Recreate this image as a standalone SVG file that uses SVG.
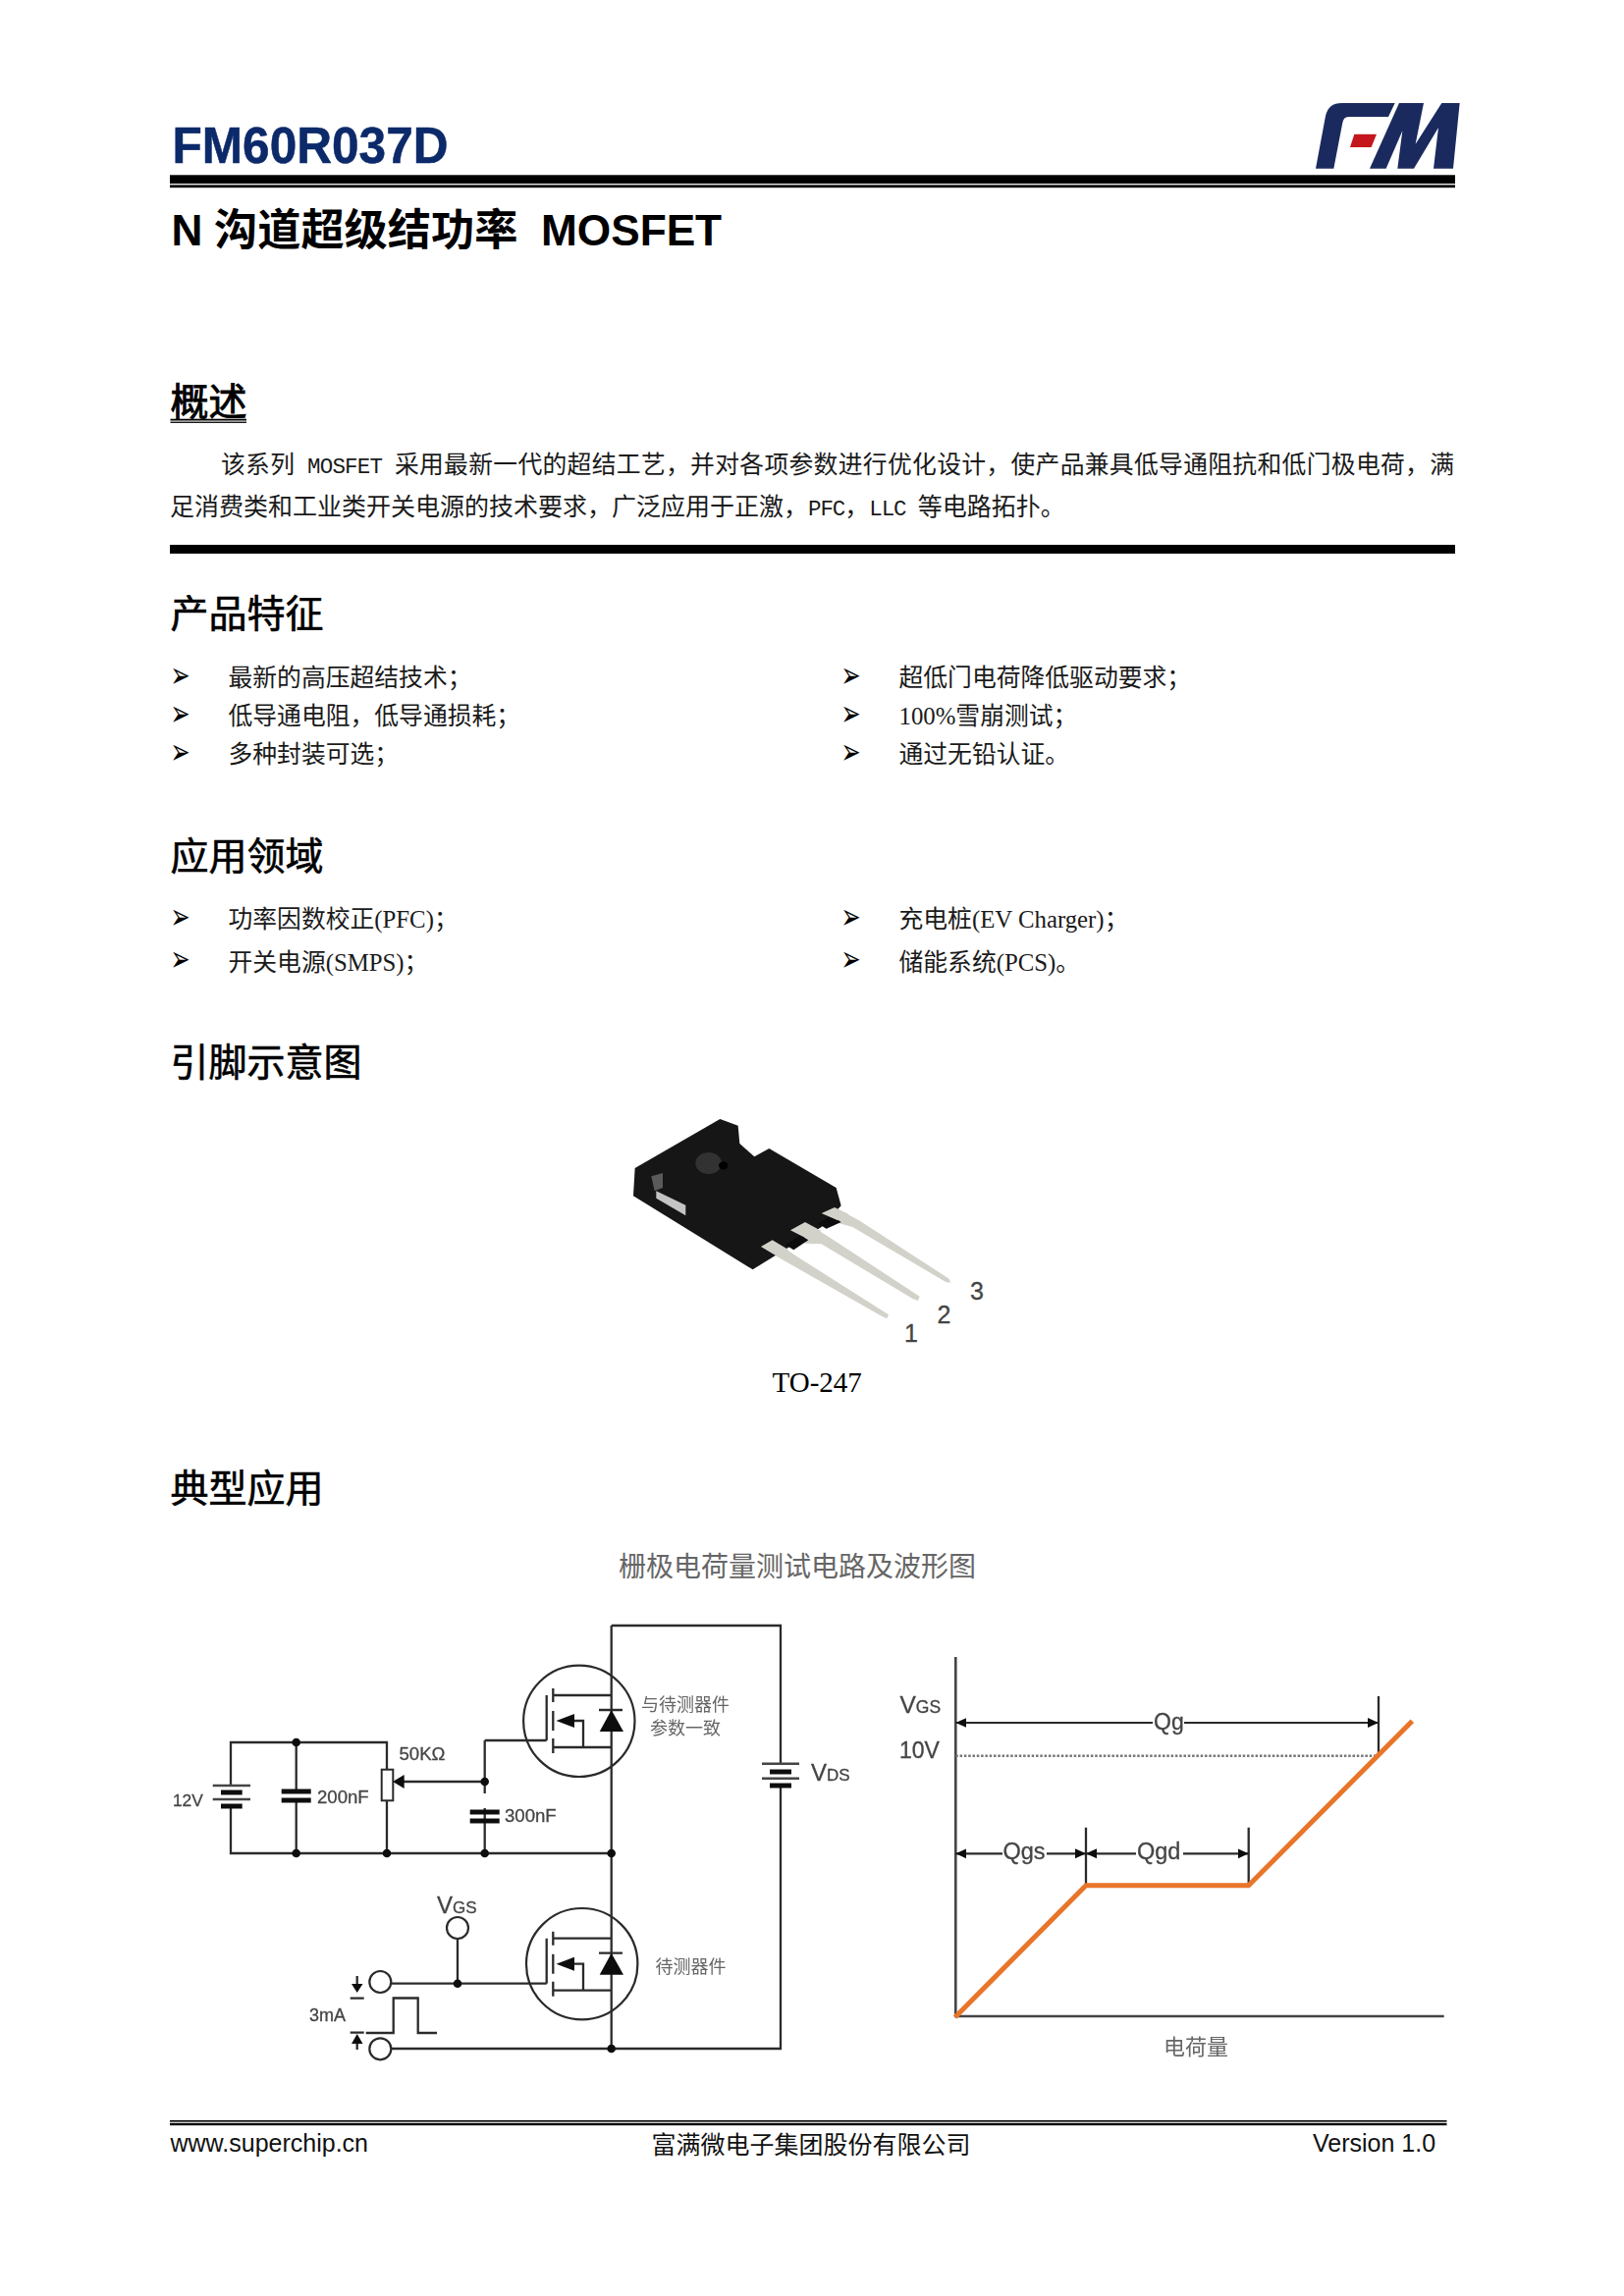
<svg xmlns="http://www.w3.org/2000/svg" xmlns:xlink="http://www.w3.org/1999/xlink" width="1654" height="2339" viewBox="0 0 1654 2339">
<style>
text{fill:#000}
.cjkS{font-family:"Liberation Serif","Noto Sans CJK SC",serif;font-size:24.8px;fill:#1a1a1a}
.h{font-family:"Noto Sans CJK SC",sans-serif;font-size:39px;fill:#000;stroke:#000;stroke-width:.6px}
.sub{font-family:"Liberation Sans","Noto Sans CJK SC",sans-serif;font-size:44.2px;font-weight:700}
.mono{font-family:"Liberation Mono",monospace;font-size:22.5px;letter-spacing:-1.1px}
.b{font-family:"DejaVu Sans",sans-serif;font-size:24px;fill:#000}
.foot{font-family:"Liberation Sans","Noto Sans CJK SC",sans-serif;font-size:25px;fill:#111}
.lab{font-family:"Liberation Sans",sans-serif;fill:#444;stroke:#444;stroke-width:.3px}
.cn{font-family:"Noto Sans CJK SC",sans-serif;fill:#666}
.w{fill:none;stroke:#2c2c2c;stroke-width:2.3}
.wt{fill:none;stroke:#444;stroke-width:2.6}
.thick{fill:none;stroke:#111;stroke-width:5}
.dot{fill:#111}
.tri{fill:#111}
.or{fill:none;stroke:#e8752a;stroke-width:5;stroke-linejoin:miter}
.dim{fill:none;stroke:#2c2c2c;stroke-width:2.2}
</style>
<defs>
<filter id="soft" x="-5%" y="-5%" width="110%" height="110%"><feGaussianBlur stdDeviation="0.55"/></filter>
<filter id="soft2" x="-5%" y="-5%" width="110%" height="110%"><feGaussianBlur stdDeviation="1.1"/></filter>
<marker id="ah" markerUnits="userSpaceOnUse" markerWidth="11" markerHeight="11" refX="11" refY="5.5" orient="auto-start-reverse"><path d="M0,0.5 L11,5.5 L0,10.5 Z" fill="#111"/></marker>
<g id="mos">
<path class="w" d="M556.7,-26V20M563.3,-33V-19M563.3,-10V10M563.3,18V33M563.3,-26H622.7M563.3,27H622.7M585,0H594V27M610,-11H634"/>
<path class="tri" d="M566.5,0L585,-7V7Z"/>
<path class="tri" d="M622.7,-11L610.7,11H635Z"/>
</g>
</defs>
<rect width="1654" height="2339" fill="#fff"/>

<g id="header">
<text x="175.5" y="165.5" font-family="Liberation Sans,sans-serif" font-size="51" font-weight="700" textLength="281" lengthAdjust="spacingAndGlyphs" style="fill:#0c2a6a;stroke:#0c2a6a;stroke-width:.5px">FM60R037D</text>
<g id="logo" transform="translate(1340 95) scale(.3333)">
<path fill="#1b2a5e" d="M0,230L30,70Q38,30 80,30L242,30L222,72L100,72Q85,72 82,90L55,230Z"/>
<path fill="#c4161c" d="M118,125L186,125L170,165L105,165Z"/>
<path fill="#1b2a5e" d="M165,230L255,30L330,30L305,155L385,30L440,30L420,230L360,230L375,105L300,230L250,230L265,115L215,230Z"/>
</g>
<rect x="173" y="178.3" width="1309" height="8.8" fill="#000"/>
<rect x="173" y="188.4" width="1309" height="2.8" fill="#000"/>
<text class="sub" x="174.5" y="250">N</text>
<text class="sub" x="218" y="250">沟道超级结功率</text>
<text class="sub" x="551" y="250">MOSFET</text>
</g>

<g id="overview">
<text class="h" x="173.5" y="423" style="stroke-width:.9px">概述</text>
<rect x="173.5" y="426.7" width="77.5" height="1.8" fill="#000"/>
<rect x="173.5" y="429.6" width="77.5" height="1.3" fill="#000"/>
<text class="cjkS" x="225" y="482" textLength="1256">该系列<tspan class="mono"> MOSFET </tspan>采用最新一代的超结工艺，并对各项参数进行优化设计，使产品兼具低导通阻抗和低门极电荷，满</text>
<text class="cjkS" x="173" y="525" style="font-size:25px">足消费类和工业类开关电源的技术要求，广泛应用于正激，<tspan class="mono">PFC</tspan>，<tspan class="mono">LLC </tspan>等电路拓扑。</text>
<rect x="173" y="555" width="1309" height="9" fill="#000"/>
</g>

<g id="features">
<text class="h" x="173.5" y="638.5">产品特征</text>
<text class="b" transform="translate(173.5 700) scale(1 1.5)">➢</text><text class="cjkS" x="232.5" y="698.5">最新的高压超结技术；</text>
<text class="b" transform="translate(173.5 739) scale(1 1.5)">➢</text><text class="cjkS" x="232.5" y="737.5">低导通电阻，低导通损耗；</text>
<text class="b" transform="translate(173.5 778) scale(1 1.5)">➢</text><text class="cjkS" x="232.5" y="776.5">多种封装可选；</text>
<text class="b" transform="translate(856.5 700) scale(1 1.5)">➢</text><text class="cjkS" x="915.5" y="698.5">超低门电荷降低驱动要求；</text>
<text class="b" transform="translate(856.5 739) scale(1 1.5)">➢</text><text class="cjkS" x="915.5" y="737.5">100%雪崩测试；</text>
<text class="b" transform="translate(856.5 778) scale(1 1.5)">➢</text><text class="cjkS" x="915.5" y="776.5">通过无铅认证。</text>
</g>

<g id="applications">
<text class="h" x="173.5" y="885.5">应用领域</text>
<text class="b" transform="translate(173.5 946) scale(1 1.5)">➢</text><text class="cjkS" x="232.5" y="945">功率因数校正(PFC)；</text>
<text class="b" transform="translate(173.5 989) scale(1 1.5)">➢</text><text class="cjkS" x="232.5" y="989">开关电源(SMPS)；</text>
<text class="b" transform="translate(856.5 946) scale(1 1.5)">➢</text><text class="cjkS" x="915.5" y="945">充电桩(EV Charger)；</text>
<text class="b" transform="translate(856.5 989) scale(1 1.5)">➢</text><text class="cjkS" x="915.5" y="989">储能系统(PCS)。</text>
</g>

<g id="pinout">
<text class="h" x="173.5" y="1096">引脚示意图</text>
<g id="package" transform="translate(620 1130) scale(.3333)" filter="url(#soft2)">
<path fill="#d2d2ca" d="M650,318L690,300L765,340L1040,518L1045,530L1030,528L745,360L690,345Z"/>
<path fill="#d2d2ca" d="M555,370L600,345L672,390L950,572L945,585L930,580L650,412L600,410Z"/>
<path fill="#d2d2ca" d="M465,420L500,400L575,450L855,628L850,640L835,633L545,468L505,445Z"/>
<path fill="#151515" d="M80,180L340,30L395,50L400,105L445,145L490,120L695,240L710,295L650,360L440,490L75,265Z"/>
<path fill="#0a0a0a" d="M540,415L585,385L610,400L565,430Z"/>
<path fill="#0a0a0a" d="M640,350L680,325L710,345L665,365Z"/>
<path fill="#d2d2ca" d="M650,318L690,300L735,322L700,340Z"/>
<path fill="#d2d2ca" d="M555,370L600,345L650,372L605,395Z"/>
<path fill="#d2d2ca" d="M465,420L500,400L550,430L515,450Z"/>
<path fill="#5a5a5a" d="M130,205L165,195L165,240L140,250Z"/>
<path fill="#c4c4c4" d="M145,250L235,293L235,325L145,272Z"/>
<ellipse cx="305" cy="165" rx="40" ry="33" fill="#333"/>
<ellipse cx="350" cy="172" rx="14" ry="12" fill="#000"/>
</g>
<text class="lab" x="921" y="1367" font-size="25">1</text>
<text class="lab" x="954.5" y="1348" font-size="25">2</text>
<text class="lab" x="988" y="1324" font-size="25">3</text>
<text x="786.5" y="1418" font-family="Liberation Serif,serif" font-size="29">TO-247</text>
</g>

<g id="typical">
<text class="h" x="173.5" y="1530">典型应用</text>
<text class="cn" x="630" y="1606" font-size="28">栅极电荷量测试电路及波形图</text>
</g>

<g id="circuit" filter="url(#soft)">
<g id="connectors">
<path class="w" d="M235,1819V1775H394V1802.7M235,1840V1888H622.7M301.7,1775V1825M301.7,1834V1888M394,1834.3V1888"/>
<path class="w" d="M411,1815H493.7M493.7,1773V1827M493.7,1842V1888M493.7,1773H556.7"/>
<path class="w" d="M622.7,1656V2087M622.7,1656H795V1796.7M795,1819V2087H398"/>
<path class="w" d="M398,2020.7H556.7M466,1975V2020.7"/>
</g>
<g id="battery-12v"><path class="wt" d="M216.7,1819H255M216.7,1833H255"/><path class="thick" d="M225,1826H246.7M225,1840H246.7"/></g>
<g id="cap-200nf"><path class="thick" d="M286.7,1825H316.7M286.7,1834H316.7"/></g>
<g id="pot-50k"><rect x="388.7" y="1802.7" width="11.6" height="31.6" fill="#fff" stroke="#2c2c2c" stroke-width="2"/><path class="tri" d="M400,1815L411.7,1808V1822Z"/></g>
<g id="cap-300nf"><path class="thick" d="M478.7,1846H508.7M478.7,1855H508.7"/></g>
<g id="battery-vds"><path class="wt" d="M776,1796.7H814M776,1811.7H814"/><path class="thick" d="M784,1805H806M784,1819H806"/></g>
<g id="q1"><circle cx="589.8" cy="1753.3" r="56.7" fill="none" stroke="#2c2c2c" stroke-width="2.2"/><use xlink:href="#mos" href="#mos" transform="translate(0 1753)"/></g>
<g id="q2"><circle cx="592.7" cy="2000.7" r="56.7" fill="none" stroke="#2c2c2c" stroke-width="2.2"/><use xlink:href="#mos" href="#mos" transform="translate(0 2000.7)"/></g>
<g id="junctions" class="dot">
<circle cx="301.7" cy="1775" r="4.3"/><circle cx="301.7" cy="1888" r="4.3"/><circle cx="394" cy="1888" r="4.3"/>
<circle cx="493.7" cy="1815" r="4.3"/><circle cx="493.7" cy="1888" r="4.3"/><circle cx="622.7" cy="1888" r="4.3"/>
<circle cx="466" cy="2020.7" r="4.3"/><circle cx="622.7" cy="2087" r="4.3"/>
</g>
<g id="terminals" fill="#fff" stroke="#2c2c2c" stroke-width="2.2">
<circle cx="466" cy="1964" r="11"/><circle cx="387.3" cy="2019" r="11"/><circle cx="387.3" cy="2087.3" r="11"/>
</g>
<g id="pulse">
<path class="w" d="M372.7,2071H400.7V2035.5H425.7V2071H445"/>
<path class="w" d="M356.7,2035.7H370.7M356.7,2070.7H370.7M363.7,2013V2024M363.7,2080V2088"/>
<path class="tri" d="M363.7,2030L358,2021H369.5Z"/><path class="tri" d="M363.7,2072L358,2082H369.5Z"/>
</g>
<text class="lab" x="176" y="1840" font-size="17.3">12V</text>
<text class="lab" x="323" y="1836.7" font-size="18.6">200nF</text>
<text class="lab" x="406.5" y="1793" font-size="18.6">50KΩ</text>
<text class="lab" x="514" y="1856" font-size="18.6">300nF</text>
<text class="lab" x="315" y="2059" font-size="18">3mA</text>
<text class="lab" x="445" y="1949" font-size="24">V<tspan font-size="17">GS</tspan></text>
<text class="lab" x="826" y="1814" font-size="24">V<tspan font-size="17">DS</tspan></text>
<text class="cn" x="653" y="1743" font-size="18">与待测器件</text>
<text class="cn" x="662" y="1766.5" font-size="18">参数一致</text>
<text class="cn" x="667.5" y="2009.5" font-size="18">待测器件</text>
</g>

<g id="waveform" filter="url(#soft)">
<g id="chart-lines">
<path class="wt" d="M973.3,1688V2054H1470.7"/>
<path d="M973.3,1788.7H1404" fill="none" stroke="#777" stroke-width="2.4" stroke-dasharray="2.5 1.8"/>
<path class="w" d="M1106,1861.7V1920.7M1271.7,1861.7V1920.7M1404,1728V1789"/>
<path class="dim" d="M973.3,1755H1174" marker-start="url(#ah)"/>
<path class="dim" d="M1206,1755H1404" marker-end="url(#ah)"/>
<path class="dim" d="M973.3,1888.3H1021" marker-start="url(#ah)"/>
<path class="dim" d="M1066,1888.3H1106" marker-end="url(#ah)"/>
<path class="dim" d="M1106,1888.3H1157" marker-start="url(#ah)"/>
<path class="dim" d="M1205,1888.3H1271.7" marker-end="url(#ah)"/>
<path class="or" d="M972.7,2055L1106,1920.7H1271.7L1438.3,1753.3"/>
</g>
<text class="lab" x="916.5" y="1745" font-size="24.5">V<tspan font-size="17.5">GS</tspan></text>
<text class="lab" x="916" y="1791" font-size="23">10V</text>
<text class="lab" x="1175" y="1761.7" font-size="23">Qg</text>
<text class="lab" x="1021.5" y="1894.3" font-size="23.5">Qgs</text>
<text class="lab" x="1158" y="1894.3" font-size="23.5">Qgd</text>
<text class="cn" x="1185" y="2093" font-size="22">电荷量</text>
</g>

<g id="footer">
<rect x="173" y="2160" width="1300.5" height="1.6" fill="#000"/>
<rect x="173" y="2162.8" width="1300.5" height="2.4" fill="#000"/>
<text class="foot" x="173.5" y="2192">www.superchip.cn</text>
<text class="foot" x="663.5" y="2194">富满微电子集团股份有限公司</text>
<text class="foot" x="1337" y="2192">Version 1.0</text>
</g>
</svg>
